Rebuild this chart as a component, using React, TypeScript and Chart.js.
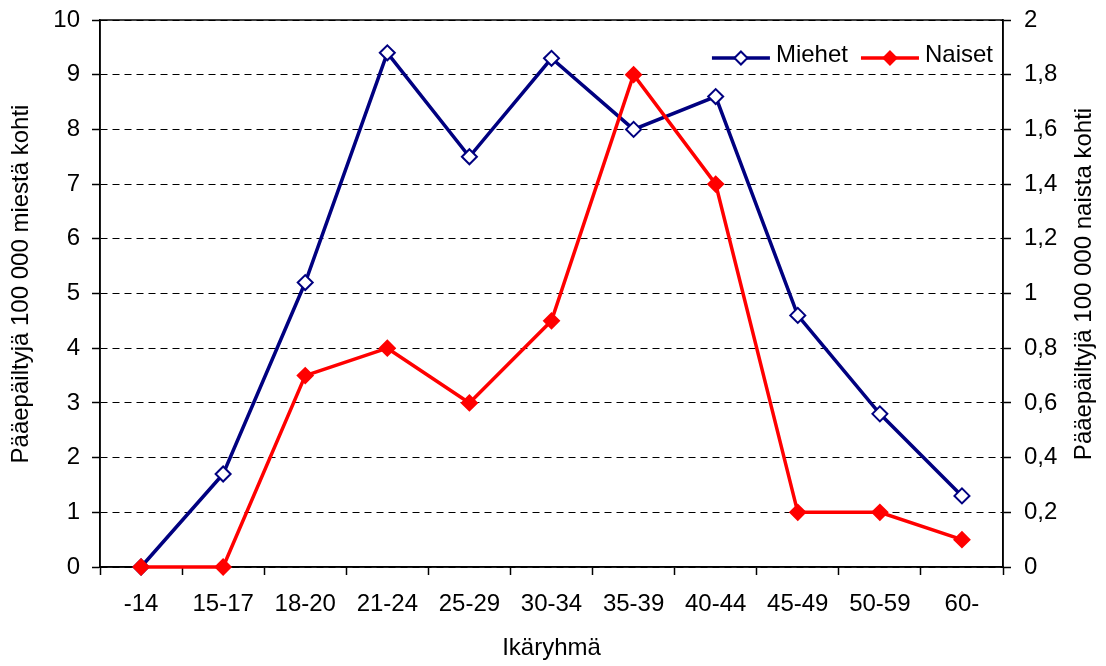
import { useEffect, useRef } from 'react';
import { Chart, registerables } from 'chart.js';

Chart.register(...registerables);

const categories = ['-14', '15-17', '18-20', '21-24', '25-29', '30-34', '35-39', '40-44', '45-49', '50-59', '60-'];
const miehet = [0, 1.7, 5.2, 9.4, 7.5, 9.3, 8.0, 8.6, 4.6, 2.8, 1.3];
const naiset = [0, 0, 0.7, 0.8, 0.6, 0.9, 1.8, 1.4, 0.2, 0.2, 0.1];
const rightTickLabels = ['0', '0,2', '0,4', '0,6', '0,8', '1', '1,2', '1,4', '1,6', '1,8', '2'];
const xTitle = 'Ikäryhmä';
const yLeftTitle = 'Pääepäiltyjä 100 000 miestä kohti';
const yRightTitle = 'Pääepäiltyjä 100 000 naista kohti';

const FONT = 'Liberation Sans, Arial, sans-serif';
const FS = 24;
const NAVY = '#000080';
const RED = '#FF0000';

const boxPlugin = {
  id: 'box',
  beforeDatasetsDraw(chart: any) {
    const { ctx, chartArea: a } = chart;
    ctx.save();
    ctx.strokeStyle = '#000';
    ctx.lineWidth = 1.5;
    ctx.setLineDash([]);
    ctx.strokeRect(a.left, a.top, a.right - a.left, a.bottom - a.top);
    ctx.restore();
  },
};

function diamond(ctx: CanvasRenderingContext2D, x: number, y: number, r: number, fill: string, stroke: string, bw: number) {
  ctx.beginPath();
  ctx.moveTo(x, y - r);
  ctx.lineTo(x + r, y);
  ctx.lineTo(x, y + r);
  ctx.lineTo(x - r, y);
  ctx.closePath();
  ctx.fillStyle = fill;
  ctx.fill();
  ctx.lineWidth = bw;
  ctx.strokeStyle = stroke;
  ctx.stroke();
}

const decorPlugin = {
  id: 'decor',
  afterDraw(chart: any) {
    const { ctx, chartArea: a } = chart;
    ctx.save();
    ctx.font = `${FS}px ${FONT}`;
    ctx.fillStyle = '#000';
    ctx.textAlign = 'center';
    ctx.textBaseline = 'middle';
    const midY = (a.top + a.bottom) / 2 - 9.5;
    ctx.save();
    ctx.translate(21, midY);
    ctx.rotate(-Math.PI / 2);
    ctx.fillText(yLeftTitle, 0, 0);
    ctx.restore();
    ctx.save();
    ctx.translate(chart.width - 22, midY);
    ctx.rotate(-Math.PI / 2);
    ctx.fillText(yRightTitle, 0, 0);
    ctx.restore();

    const ds = chart.data.datasets;
    const sym = 58, gapT = 6, gapI = 13;
    const widths = ds.map((d: any) => ctx.measureText(d.label).width);
    let total = 0;
    ds.forEach((_: any, i: number) => { total += sym + gapT + widths[i] + (i < ds.length - 1 ? gapI : 0); });
    let x = a.right - 10 - total;
    const ly = a.top + 38;
    ds.forEach((d: any, i: number) => {
      ctx.setLineDash([]);
      ctx.beginPath();
      ctx.moveTo(x, ly);
      ctx.lineTo(x + sym, ly);
      ctx.strokeStyle = d.borderColor;
      ctx.lineWidth = 3.5;
      ctx.stroke();
      diamond(ctx, x + sym / 2, ly, 6.5, d.pointBackgroundColor, d.pointBorderColor, d.pointBorderWidth);
      ctx.fillStyle = '#000';
      ctx.textAlign = 'left';
      ctx.textBaseline = 'alphabetic';
      ctx.fillText(d.label, x + sym + gapT, a.top + 42);
      x += sym + gapT + widths[i] + gapI;
    });
    ctx.restore();
  },
};

export default function App() {
  const ref = useRef<HTMLCanvasElement>(null);
  useEffect(() => {
    if (!ref.current) return;
    Chart.defaults.font.family = FONT;
    Chart.defaults.font.size = FS;
    Chart.defaults.color = '#000';
    const noPad = (s: any) => { s.paddingTop = 0; s.paddingBottom = 0; s.paddingLeft = 0; s.paddingRight = 0; };
    const chart = new Chart(ref.current, {
      type: 'line',
      data: {
        labels: categories,
        datasets: [
          {
            label: 'Miehet',
            data: miehet,
            yAxisID: 'y',
            borderColor: NAVY,
            borderWidth: 3.5,
            pointStyle: 'rectRot',
            pointRadius: 7.5,
            pointBackgroundColor: '#FFFFFF',
            pointBorderColor: NAVY,
            pointBorderWidth: 2,
            tension: 0,
            clip: false,
            order: 1,
          } as any,
          {
            label: 'Naiset',
            data: naiset,
            yAxisID: 'y1',
            borderColor: RED,
            borderWidth: 3.5,
            pointStyle: 'rectRot',
            pointRadius: 7.5,
            pointBackgroundColor: RED,
            pointBorderColor: RED,
            pointBorderWidth: 2,
            tension: 0,
            clip: false,
            order: 0,
          } as any,
        ],
      },
      options: {
        responsive: false,
        animation: false,
        devicePixelRatio: 1,
        layout: { padding: { top: 20, left: 0, right: 0, bottom: 0 } },
        plugins: {
          legend: { display: false },
          tooltip: { enabled: false },
          title: { display: false },
        },
        scales: {
          x: {
            type: 'category',
            offset: true,
            grid: {
              display: true,
              drawOnChartArea: false,
              drawTicks: true,
              tickLength: 8,
              offset: true,
              color: '#000',
              tickColor: '#000',
              tickWidth: 1.5,
            },
            border: { display: true, color: '#000', width: 1.5 },
            ticks: { color: '#000', font: { size: FS, family: FONT }, padding: 15, maxRotation: 0, autoSkip: false },
            title: { display: true, text: xTitle, color: '#000', font: { size: FS, family: FONT }, padding: { top: 0, bottom: 3 } },
            afterFit: (s: any) => { s.height = 99; noPad(s); },
          },
          y: {
            position: 'left',
            min: 0,
            max: 10,
            ticks: { stepSize: 1, color: '#000', font: { size: FS, family: FONT }, padding: 12 },
            grid: {
              color: '#000',
              lineWidth: 1,
              tickLength: 8,
              tickColor: '#000',
              tickWidth: 1.5,
              tickBorderDash: [],
            },
            border: { display: true, color: '#000', width: 1.5, dash: [7, 5] },
            afterFit: (s: any) => { s.width = 100; noPad(s); },
          },
          y1: {
            position: 'right',
            min: 0,
            max: 2,
            ticks: {
              stepSize: 0.2,
              color: '#000',
              font: { size: FS, family: FONT },
              padding: 13,
              callback: (_v: any, i: number) => rightTickLabels[i],
            },
            grid: {
              drawOnChartArea: false,
              tickLength: 8,
              color: '#000',
              tickColor: '#000',
              tickWidth: 1.5,
              tickBorderDash: [],
            },
            border: { display: true, color: '#000', width: 1.5 },
            afterFit: (s: any) => { s.width = 103; noPad(s); },
          },
        },
      } as any,
      plugins: [boxPlugin, decorPlugin],
    });
    return () => chart.destroy();
  }, []);
  return (
    <div style={{ position: 'fixed', left: 0, top: 0, width: 1106, height: 666, background: '#fff' }}>
      <canvas ref={ref} width={1106} height={666} style={{ display: 'block', width: 1106, height: 666 }} />
    </div>
  );
}
